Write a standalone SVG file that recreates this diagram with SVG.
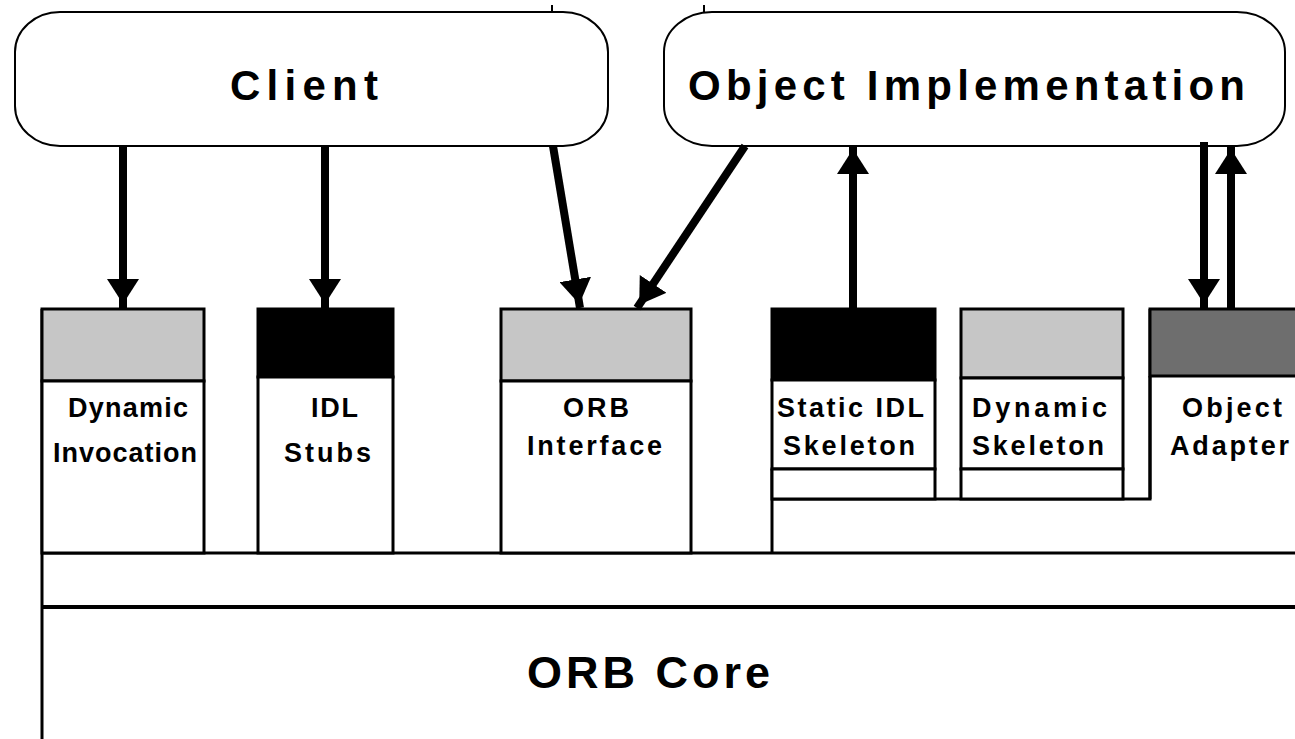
<svg xmlns="http://www.w3.org/2000/svg" width="1295" height="739" viewBox="0 0 1295 739">
  <style>
    .pill { fill: #ffffff; stroke: #000000; stroke-width: 2; }
    .box { stroke: #000000; stroke-width: 3; }
    .gray { fill: #c6c6c6; }
    .dark { fill: #6e6e6e; }
    .black { fill: #000000; }
    .white { fill: #ffffff; }
    .ln { stroke: #000000; stroke-width: 3; fill: none; }
    .big { font-family: "Liberation Sans", Arial, sans-serif; font-weight: bold; font-size: 42px; fill: #000000; }
    .lbl { font-family: "Liberation Sans", Arial, sans-serif; font-weight: bold; font-size: 27px; fill: #000000; }
    .core { font-family: "Liberation Sans", Arial, sans-serif; font-weight: bold; font-size: 45px; fill: #000000; }
    .arrow { stroke: #000000; stroke-width: 8; fill: none; marker-end: url(#head); }
  </style>
  <defs>
    <marker id="head" viewBox="0 0 30 32" refX="29" refY="16" markerWidth="30" markerHeight="32" markerUnits="userSpaceOnUse" orient="auto">
      <path d="M0,0 L25,16 L0,32 Z" fill="#000000"/>
    </marker>
  </defs>
  <rect width="1295" height="739" fill="#ffffff"/>

  <g id="ticks" class="ln" style="stroke-width:2">
    <line x1="552" y1="5" x2="552" y2="12"/>
    <line x1="704" y1="5" x2="704" y2="12"/>
  </g>

  <g id="client">
    <rect class="pill" x="15" y="12" width="593" height="134" rx="45" ry="40"/>
    <text class="big" x="230" y="100" textLength="148" lengthAdjust="spacing">Client</text>
  </g>

  <g id="object-implementation">
    <rect class="pill" x="664" y="12" width="621" height="134" rx="48" ry="40"/>
    <text class="big" x="688" y="100" textLength="557" lengthAdjust="spacing">Object Implementation</text>
  </g>

  <g id="orb-core">
    <line class="ln" x1="42" y1="309" x2="42" y2="739"/>
    <line class="ln" x1="42" y1="553" x2="1295" y2="553"/>
    <line class="ln" x1="42" y1="607" x2="1295" y2="607" style="stroke-width:4"/>
    <text class="core" x="527" y="688" textLength="243" lengthAdjust="spacing">ORB Core</text>
  </g>

  <g id="dynamic-invocation">
    <rect class="box gray" x="42" y="309" width="162" height="72"/>
    <rect class="box white" x="42" y="381" width="162" height="172"/>
    <text class="lbl" x="68" y="417" textLength="120" lengthAdjust="spacing">Dynamic</text>
    <text class="lbl" x="53" y="462" textLength="144" lengthAdjust="spacing">Invocation</text>
  </g>

  <g id="idl-stubs">
    <rect class="box black" x="258" y="309" width="135" height="68"/>
    <rect class="box white" x="258" y="377" width="135" height="176"/>
    <text class="lbl" x="311" y="417" textLength="47" lengthAdjust="spacing">IDL</text>
    <text class="lbl" x="284" y="462" textLength="87" lengthAdjust="spacing">Stubs</text>
  </g>

  <g id="orb-interface">
    <rect class="box gray" x="501" y="309" width="190" height="72"/>
    <rect class="box white" x="501" y="381" width="190" height="172"/>
    <text class="lbl" x="563" y="417" textLength="66" lengthAdjust="spacing">ORB</text>
    <text class="lbl" x="527" y="455" textLength="135" lengthAdjust="spacing">Interface</text>
  </g>

  <g id="skeleton-base">
    <polyline class="ln" points="772,469 772,553"/>
    <polyline class="ln" points="772,499 1150,499 1150,309"/>
  </g>

  <g id="static-idl-skeleton">
    <rect class="box black" x="772" y="309" width="163" height="71"/>
    <rect class="box white" x="772" y="380" width="163" height="89"/>
    <rect class="box white" x="772" y="469" width="163" height="30"/>
    <text class="lbl" x="777" y="417" textLength="147" lengthAdjust="spacing">Static IDL</text>
    <text class="lbl" x="783" y="455" textLength="132" lengthAdjust="spacing">Skeleton</text>
  </g>

  <g id="dynamic-skeleton">
    <rect class="box gray" x="961" y="309" width="162" height="69"/>
    <rect class="box white" x="961" y="378" width="162" height="91"/>
    <rect class="box white" x="961" y="469" width="162" height="30"/>
    <text class="lbl" x="972" y="417" textLength="135" lengthAdjust="spacing">Dynamic</text>
    <text class="lbl" x="972" y="455" textLength="132" lengthAdjust="spacing">Skeleton</text>
  </g>

  <g id="object-adapter">
    <rect class="box dark" x="1150" y="309" width="160" height="67"/>
    <line class="ln" x1="1150" y1="376" x2="1150" y2="499"/>
    <text class="lbl" x="1182" y="417" textLength="100" lengthAdjust="spacing">Object</text>
    <text class="lbl" x="1170" y="455" textLength="119" lengthAdjust="spacing">Adapter</text>
  </g>

  <g id="connectors">
    <line class="arrow" x1="123" y1="146" x2="123" y2="308"/>
    <line class="arrow" x1="325" y1="146" x2="325" y2="308"/>
    <line class="arrow" x1="553" y1="146" x2="580" y2="308"/>
    <line class="arrow" x1="745" y1="146" x2="637" y2="308"/>
    <line class="arrow" x1="853" y1="309" x2="853" y2="145"/>
    <line class="arrow" x1="1204" y1="142" x2="1204" y2="308"/>
    <line class="arrow" x1="1231" y1="309" x2="1231" y2="145"/>
  </g>
</svg>
